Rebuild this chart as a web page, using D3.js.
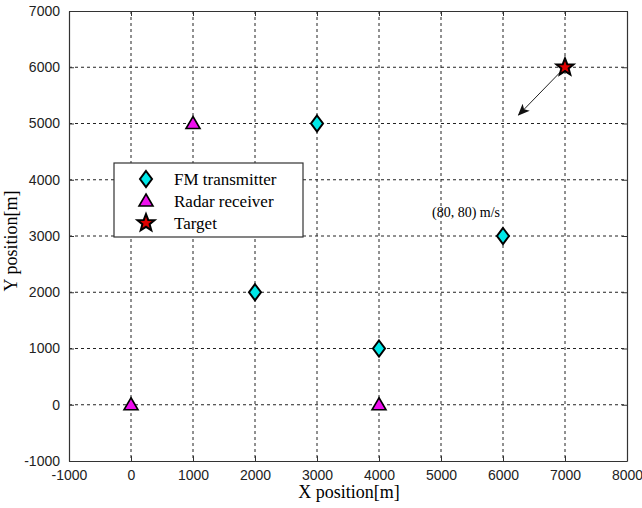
<!DOCTYPE html>
<html>
<head>
<meta charset="utf-8">
<script src="https://cdn.jsdelivr.net/npm/d3@7"></script>
<style>
  body { margin: 0; background: #fff; }
  svg { display: block; }
</style>
</head>
<body>
<svg id="chart" width="642" height="508"></svg>
<script>
// Node positions (metres)
const transmittersX = [2000, 3000, 4000, 6000];
const transmittersY = [2000, 5000, 1000, 3000];
const receiversX = [0, 1000, 4000];
const receiversY = [0, 5000, 0];
const targetX = [7000];
const targetY = [6000];
// Velocity arrow end point and its label
const arrowEnd = [6250, 5150];
const velocityLabel = "(80, 80) m/s";
const xTicks = [-1000, 0, 1000, 2000, 3000, 4000, 5000, 6000, 7000, 8000];
const yTicks = [-1000, 0, 1000, 2000, 3000, 4000, 5000, 6000, 7000];
const legendLabels = ["FM transmitter", "Radar receiver", "Target"];

const svg = d3.select("#chart");
const plotLeft = 69, plotRight = 627, plotTop = 11, plotBottom = 461;

const x = d3.scaleLinear().domain([-1000, 8000]).range([plotLeft, plotRight]);
const y = d3.scaleLinear().domain([-1000, 7000]).range([plotBottom, plotTop]);

const axisFont = "Liberation Sans, Arial, sans-serif";
const serif = "Liberation Serif, Times New Roman, serif";
const plain = d => String(d);

// dashed grid
const grid = svg.append("g").attr("stroke", "#222").attr("stroke-width", 1)
  .attr("stroke-dasharray", "3,3");
xTicks.slice(1, -1).forEach(t => {
  grid.append("line").attr("x1", x(t)).attr("x2", x(t)).attr("y1", plotTop).attr("y2", plotBottom);
});
yTicks.slice(1, -1).forEach(t => {
  grid.append("line").attr("x1", plotLeft).attr("x2", plotRight).attr("y1", y(t)).attr("y2", y(t));
});

// axes with inward ticks
const xAxis = svg.append("g").attr("transform", `translate(0,${plotBottom})`)
  .call(d3.axisBottom(x).tickValues(xTicks).tickFormat(plain)
    .tickSizeInner(-5).tickSizeOuter(0).tickPadding(9));
const yAxis = svg.append("g").attr("transform", `translate(${plotLeft},0)`)
  .call(d3.axisLeft(y).tickValues(yTicks).tickFormat(plain)
    .tickSizeInner(-5).tickSizeOuter(0).tickPadding(9));
const xTop = svg.append("g").attr("transform", `translate(0,${plotTop})`)
  .call(d3.axisTop(x).tickValues(xTicks).tickSizeInner(-5).tickSizeOuter(0).tickFormat(""));
const yRight = svg.append("g").attr("transform", `translate(${plotRight},0)`)
  .call(d3.axisRight(y).tickValues(yTicks).tickSizeInner(-5).tickSizeOuter(0).tickFormat(""));
[xAxis, yAxis, xTop, yRight].forEach(a => {
  a.select(".domain").attr("stroke", "#333").attr("stroke-width", 1.2);
  a.selectAll(".tick line").attr("stroke", "#333");
  a.selectAll(".tick text").attr("font-family", axisFont).attr("font-size", 14)
    .attr("fill", "#222");
});

// axis titles
svg.append("text").attr("x", (plotLeft + plotRight) / 2 + 1).attr("y", 498)
  .attr("text-anchor", "middle").attr("font-family", serif).attr("font-size", 18)
  .text("X position[m]");
svg.append("text").attr("transform", `translate(17,${(plotTop + plotBottom) / 2 + 5}) rotate(-90)`)
  .attr("text-anchor", "middle").attr("font-family", serif).attr("font-size", 18)
  .text("Y position[m]");

// marker shapes
function diamond(g) {
  g.append("path").attr("d", "M0,-8 L6,0 L0,8 L-6,0 Z")
    .attr("fill", "#00e8e8").attr("stroke", "#000").attr("stroke-width", 2);
}
function triangle(g) {
  g.append("path").attr("d", "M0,-7 L7,5 L-7,5 Z")
    .attr("fill", "#ee10ee").attr("stroke", "#000").attr("stroke-width", 1.6);
}
function star(g) {
  const pts = [];
  for (let i = 0; i < 10; i++) {
    const r = i % 2 === 0 ? 9 : 3.8;
    const a = -Math.PI / 2 + i * Math.PI / 5;
    pts.push([r * Math.cos(a), r * Math.sin(a)]);
  }
  g.append("path").attr("d", "M" + pts.map(p => p.join(",")).join("L") + "Z")
    .attr("fill", "#e00000").attr("stroke", "#000").attr("stroke-width", 2)
    .attr("stroke-linejoin", "miter");
}

// velocity arrow
const defs = svg.append("defs");
defs.append("marker").attr("id", "head").attr("viewBox", "0 0 12 10")
  .attr("refX", 11).attr("refY", 5).attr("markerWidth", 12).attr("markerHeight", 10)
  .attr("markerUnits", "userSpaceOnUse").attr("orient", "auto")
  .append("path").attr("d", "M0,0 L12,5 L0,10 L3,5 Z").attr("fill", "#111");
svg.append("line")
  .attr("x1", x(targetX[0])).attr("y1", y(targetY[0]))
  .attr("x2", x(arrowEnd[0])).attr("y2", y(arrowEnd[1]))
  .attr("stroke", "#222").attr("stroke-width", 1).attr("marker-end", "url(#head)");

svg.append("text").attr("x", 466).attr("y", 217).attr("text-anchor", "middle")
  .attr("font-family", serif).attr("font-size", 14).text(velocityLabel);

// nodes
transmittersX.forEach((v, i) => {
  svg.append("g").attr("transform", `translate(${x(v)},${y(transmittersY[i])})`).call(diamond);
});
receiversX.forEach((v, i) => {
  svg.append("g").attr("transform", `translate(${x(v)},${y(receiversY[i])})`).call(triangle);
});
targetX.forEach((v, i) => {
  svg.append("g").attr("transform", `translate(${x(v)},${y(targetY[i])})`).call(star);
});

// legend
const lg = svg.append("g");
lg.append("rect").attr("x", 114).attr("y", 163).attr("width", 189).attr("height", 74)
  .attr("fill", "#fff").attr("stroke", "#333").attr("stroke-width", 1.2);
const shapes = [diamond, triangle, star];
legendLabels.forEach((lab, i) => {
  const cy = 179 + i * 22;
  lg.append("g").attr("transform", `translate(146,${cy})`).call(shapes[i]);
  lg.append("text").attr("x", 174).attr("y", cy + 6).attr("font-family", serif)
    .attr("font-size", 17).text(lab);
});
</script>
</body>
</html>
